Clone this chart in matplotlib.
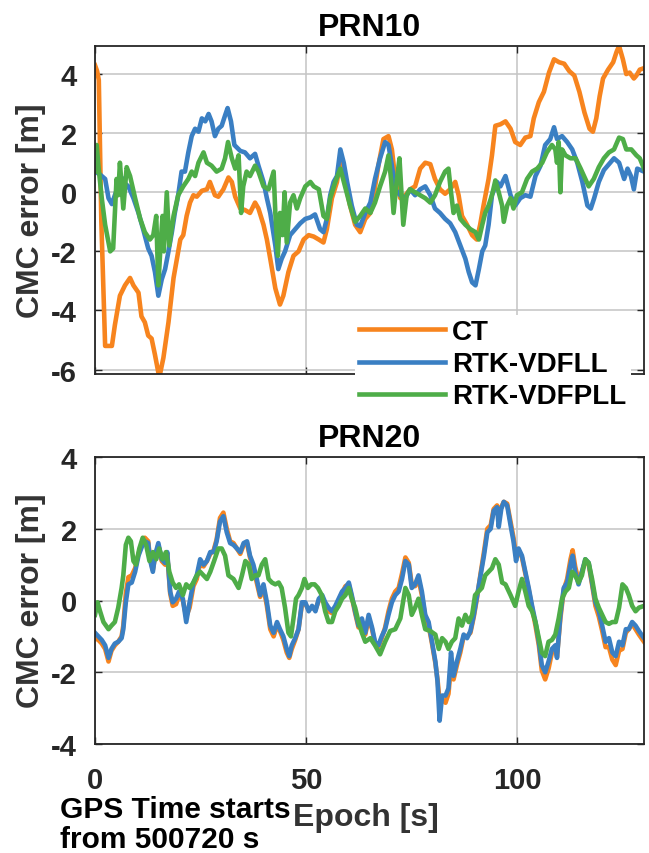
import matplotlib
matplotlib.use("Agg")
import matplotlib.pyplot as plt
import numpy as np

plt.rcParams['font.family'] = ['Liberation Sans', 'DejaVu Sans']
plt.rcParams['font.weight'] = 'bold'
plt.rcParams['axes.unicode_minus'] = False

# PRN10 -- epoch [s] and CMC error [m] for each receiver
p10_ct_t = [0, 0.5, 0.9, 1.5, 2.4, 3.2, 4.0, 4.7, 5.9, 7.1, 8.3, 9.1, 10.3, 11.0, 11.8, 12.6, 13.4, 14.2, 15.0, 15.4,
            16.2, 17.4, 18.6, 19.4, 20.2, 20.9, 21.7, 22.5, 23.3, 24.1, 25.3, 26.5, 27.2, 28.4, 29.2, 30.4, 31.6, 32.4,
            33.2, 34.4, 35.5, 36.7, 37.9, 38.7, 39.9, 40.7, 41.5, 42.7, 43.8, 44.6, 45.8, 47.0, 48.2, 49.4, 50.6, 51.8,
            53.0, 54.1, 54.9, 56.1, 57.3, 58.1, 59.2, 60.4, 61.6, 62.8, 64.0, 65.2, 66.0, 67.1, 68.3, 69.5, 70.3, 71.1,
            72.3, 73.5, 74.6, 75.8, 77.0, 78.2, 79.4, 80.5, 81.7, 82.9, 84.1, 85.3, 86.1, 86.9, 88.1, 89.3, 90.4, 91.2,
            92.0, 93.2, 94.0, 94.8, 96.0, 97.2, 98.4, 99.5, 100.7, 101.9, 103.1, 103.9, 105.1, 106.3, 107.5, 108.7,
            109.9, 111.1, 112.3, 113.5, 114.7, 115.9, 117.1, 117.9, 118.7, 119.5, 120.3, 121.5, 122.7, 123.5, 124.1,
            125.0, 125.8, 126.6, 127.6, 128.2, 129.0, 130]
p10_ct = [4.3, 4.1, 3.8, -1.0, -5.2, -5.2, -5.2, -4.5, -3.5, -3.15, -2.9, -3.15, -3.4, -4.2, -4.4, -4.85, -4.95, -5.5,
          -6.1, -6.15, -5.6, -4.4, -2.9, -2.25, -1.6, -1.45, -0.8, -0.35, -0.1, -0.15, 0.05, 0.1, 0.35, -0.1, -0.15,
          0.1, 0.5, 0.35, -0.15, -0.55, -0.6, -0.7, -0.35, -0.55, -1.1, -1.6, -2.25, -3.25, -3.8, -3.5, -2.7, -2.15,
          -2.0, -1.6, -1.45, -1.5, -1.6, -1.7, -1.25, -0.2, 0.35, 1.1, 0.35, -0.45, -1.1, -1.35, -0.9, -0.7, -0.1, 0.9,
          1.8, 1.9, 1.45, 0.45, -0.2, -0.1, 0.1, 0.2, 0.8, 1.0, 0.95, 0.45, 0.1, -0.05, 0.1, 0.35, -0.1, -0.8, -1.1,
          -1.45, -1.6, -1.1, -0.45, 0.45, 1.25, 2.25, 2.3, 2.4, 2.15, 1.7, 1.6, 1.85, 1.9, 2.5, 3.05, 3.4, 4.05, 4.5,
          4.4, 4.35, 4.1, 3.95, 3.4, 2.7, 2.15, 2.05, 2.5, 3.25, 3.85, 4.15, 4.4, 4.75, 4.95, 4.5, 4.0, 4.05, 3.85,
          3.95, 4.15, 4.2]

p10_fll_t = [0, 1.2, 2.4, 3.2, 4.0, 4.7, 5.5, 6.3, 7.1, 7.9, 9.1, 10.3, 11.4, 12.6, 13.4, 14.2, 15.0, 15.8, 16.6,
             17.4, 18.2, 18.9, 19.7, 20.5, 21.3, 22.1, 22.9, 23.7, 24.5, 25.3, 26.1, 26.9, 27.6, 28.4, 29.2, 30.0,
             30.8, 31.4, 32.2, 33.0, 34.4, 35.5, 36.7, 37.9, 38.7, 39.9, 40.7, 41.5, 42.7, 43.4, 44.2, 45.0, 46.2,
             47.4, 48.6, 49.8, 51.0, 52.1, 53.3, 54.1, 54.9, 55.7, 56.5, 57.3, 58.1, 58.9, 59.7, 60.8, 62.0, 62.8,
             64.0, 65.2, 66.3, 67.5, 68.7, 69.5, 70.3, 71.1, 72.3, 73.5, 74.6, 75.8, 77.0, 78.2, 79.4, 80.5, 81.7,
             82.9, 84.1, 85.3, 86.5, 87.7, 88.5, 89.3, 90.1, 90.9, 91.7, 92.4, 93.2, 94.0, 95.2, 96.0, 97.2, 98.4,
             99.5, 100.7, 101.9, 103.1, 104.3, 105.5, 106.6, 107.8, 108.7, 109.4, 110.6, 111.8, 113.0, 114.2, 115.4,
             116.6, 117.4, 118.2, 119.3, 120.5, 121.7, 122.9, 124.1, 125.3, 126.1, 126.9, 127.6, 128.4, 130]
p10_fll = [0.7, 0.6, 0.45, -0.2, -0.4, -0.1, 0.2, 0.5, 0.3, 0.2, -0.2, -0.7, -1.25, -1.9, -2.15, -2.7, -3.5, -2.95,
           -2.6, -2.0, -1.35, -0.7, -0.1, 0.7, 0.7, 1.35, 1.9, 2.15, 2.05, 2.5, 2.4, 2.65, 2.4, 1.9, 2.15, 2.25, 2.6,
           2.85, 2.4, 1.6, 1.4, 1.35, 1.15, 1.3, 0.9, 0.35, -0.2, -0.7, -1.8, -2.6, -2.25, -2.0, -1.45, -1.25, -1.05,
           -0.9, -0.85, -0.75, -1.25, -1.35, -0.9, -0.1, 0.35, 0.55, 1.45, 1.0, 0.35, -0.45, -1.1, -1.15, -0.7,
           -0.35, 0.45, 1.15, 1.7, 1.6, 0.9, 0.1, -0.1, -0.2, 0.1, -0.1, 0.1, 0.2, -0.1, -0.55, -0.7, -0.9, -1.05,
           -1.35, -1.8, -2.25, -2.7, -3.05, -3.15, -2.6, -2.0, -1.8, -1.1, -0.1, 0.35, 0.2, 0.55, -0.1, -0.45, -0.2,
           -0.1, -0.15, 0.55, 0.9, 1.6, 1.8, 2.2, 1.8, 1.9, 1.7, 1.45, 1.0, 0.35, -0.45, -0.55, -0.2, 0.35, 0.75,
           0.95, 1.15, 1.0, 0.45, 0.8, 0.55, 0.1, 0.8, 0.7]

p10_fpll_t = [0, 0.4, 0.8, 1.6, 2.4, 3.2, 3.6, 4.3, 4.7, 5.1, 5.5, 5.9, 6.3, 6.7, 7.5, 8.3, 9.5, 10.7, 11.8, 13.0,
              13.8, 14.5, 15.0, 15.6, 16.0, 16.3, 17.0, 17.6, 18.6, 19.7, 20.9, 22.1, 22.9, 23.7, 24.5, 25.7, 26.5,
              27.6, 28.8, 30.0, 30.8, 31.5, 32.4, 33.2, 34.0, 34.6, 35.1, 35.9, 36.7, 37.9, 38.7, 39.9, 41.1, 42.3,
              42.7, 43.3, 43.8, 44.4, 44.9, 45.4, 46.2, 47.0, 47.8, 48.6, 49.8, 51.0, 51.8, 53.0, 54.1, 54.9, 55.7,
              56.9, 58.1, 59.2, 60.4, 61.6, 62.8, 64.0, 65.2, 66.3, 67.5, 68.7, 69.5, 70.1, 70.7, 71.5, 72.1, 72.6,
              73.0, 73.8, 74.6, 75.8, 77.0, 78.2, 79.4, 80.5, 81.7, 82.9, 83.7, 84.3, 84.9, 85.7, 86.5, 87.7, 88.9,
              90.1, 90.9, 91.7, 92.4, 93.2, 94.0, 94.8, 95.6, 96.4, 96.8, 97.6, 98.4, 99.1, 99.9, 101.1, 102.3,
              103.5, 104.7, 105.9, 107.0, 108.2, 109.0, 109.4, 109.8, 110.2, 110.6, 111.4, 112.6, 113.8, 115.0,
              116.1, 116.9, 118.1, 119.3, 120.5, 121.7, 122.9, 124.1, 125.0, 125.8, 127.0, 128.2, 129.0, 130]
p10_fpll = [0.7, 1.6, 0.9, -0.2, -1.1, -1.7, -2.0, -1.9, -0.7, 0.45, -0.1, 1.0, 0.2, -0.55, 0.85, 0.55, -0.2, -0.9,
            -1.35, -1.6, -1.45, -0.8, -3.15, -1.6, -0.8, -2.0, 0.0, -1.8, -0.8, -0.1, 0.2, 0.45, 0.7, 0.55, 1.0,
            1.35, 1.0, 0.9, 0.7, 0.8, 1.15, 1.7, 1.15, 0.8, 1.25, -0.7, 0.2, 0.7, 0.55, 0.9, 0.7, 0.2, 0.1, 0.7,
            -0.7, -2.15, -0.7, -1.45, 0.0, -1.7, -0.35, -0.1, -0.55, -0.2, 0.2, 0.35, 0.2, 0.1, -0.8, -0.9, -0.2,
            0.35, 0.8, 0.2, -0.45, -1.0, -0.8, -0.55, -0.7, -0.35, 0.2, 0.7, 1.25, 0.45, -0.7, 0.45, 1.15, -0.1,
            -1.1, -0.1, 0.1, 0.0, -0.1, -0.2, -0.35, -0.1, 0.35, 0.7, 0.8, 0.0, -0.7, -0.45, -0.9, -1.1, -1.25,
            -1.35, -1.6, -1.1, -0.7, -0.45, -0.1, 0.4, 0.0, -0.45, -1.0, -0.45, -0.2, -0.55, -0.1, 0.0, 0.45, 0.7,
            0.8, 1.0, 1.35, 1.6, 1.45, 1.0, 1.7, 0.0, 1.45, 1.25, 1.15, 1.15, 0.8, 0.45, 0.2, 0.45, 0.85, 1.15,
            1.35, 1.45, 1.85, 1.8, 1.45, 1.45, 1.25, 1.15, 0.8]

# PRN20 -- CT and VDFLL share one epoch list
p20_t = [0, 0.8, 1.6, 2.4, 3.2, 3.9, 4.7, 5.5, 6.3, 6.7, 7.3, 7.9, 8.7, 9.5, 10.3, 11.1, 11.8, 12.6, 13.0, 13.7,
         14.2, 15.0, 15.8, 16.6, 17.1, 17.8, 18.4, 19.2, 19.9, 20.8, 21.6, 22.4, 23.3, 24.1, 24.9, 25.7, 26.5,
         27.3, 28.1, 28.8, 29.6, 30.4, 31.2, 32.0, 32.8, 34.4, 35.2, 36.0, 36.7, 37.5, 38.3, 39.1, 39.9, 40.7,
         41.5, 42.3, 43.1, 43.8, 44.6, 45.4, 46.0, 46.6, 47.4, 48.2, 49.0, 49.8, 50.6, 51.4, 52.2, 53.0, 53.8,
         54.5, 55.3, 56.1, 56.9, 57.7, 58.5, 59.3, 60.1, 60.8, 61.6, 62.4, 63.2, 64.0, 64.8, 65.6, 66.3, 67.1,
         67.9, 68.7, 69.5, 70.3, 71.1, 71.9, 72.7, 73.5, 74.3, 75.0, 75.8, 76.6, 77.4, 78.2, 79.0, 79.8, 80.6,
         81.1, 81.6, 82.2, 83.0, 83.7, 84.3, 84.9, 85.7, 86.5, 87.3, 88.1, 88.9, 89.7, 90.5, 91.3, 92.1, 92.9,
         93.7, 94.4, 95.2, 95.6, 96.2, 96.8, 97.6, 98.4, 99.1, 99.7, 100.3, 101.1, 101.9, 102.7, 103.5, 104.3,
         105.1, 105.8, 106.6, 107.4, 108.2, 109.0, 109.4, 110.2, 111.0, 111.8, 112.6, 113.1, 113.7, 114.5, 115.3,
         116.1, 116.9, 117.7, 118.5, 119.3, 120.1, 120.9, 121.7, 122.5, 123.3, 124.1, 124.9, 125.7, 126.4, 127.2,
         128.0, 128.8, 130]
p20_ct = [-1.05, -1.1, -1.2, -1.35, -1.7, -1.4, -1.25, -1.15, -1.0, -0.7, 0.2, 0.65, 0.7, 0.9, 1.3, 1.6, 1.75, 1.65,
          1.2, 0.85, 1.2, 1.55, 1.1, 1.0, 1.3, 0.2, -0.15, -0.1, 0.15, 0.0, -0.45, -0.2, 0.4, 0.6, 1.05, 0.95, 1.1,
          1.3, 1.4, 1.7, 2.3, 2.45, 2.0, 1.65, 1.6, 1.3, 1.55, 1.6, 1.2, 0.9, 0.5, 0.1, 0.35, -0.15, -0.8, -1.0,
          -0.7, -0.85, -1.1, -1.45, -1.6, -1.35, -1.1, -0.8, -0.1, -0.1, -0.25, -0.2, -0.25, 0.0, 0.1, -0.1, -0.3,
          -0.35, -0.2, 0.0, 0.2, 0.4, 0.45, 0.1, -0.35, -0.75, -0.6, -0.95, -0.5, -0.8, -1.2, -1.3, -1.05, -0.75,
          -0.3, 0.05, 0.25, 0.35, 0.75, 1.2, 1.05, 0.45, 0.4, 0.6, 0.15, -0.45, -0.7, -1.2, -1.75, -2.2, -2.8,
          -2.75, -2.85, -2.6, -1.8, -2.2, -1.8, -1.45, -1.0, -1.0, -0.9, -0.45, 0.1, 0.75, 1.35, 2.0, 2.1, 2.55,
          2.65, 2.4, 2.6, 2.75, 2.7, 2.2, 1.75, 1.25, 1.4, 1.2, 0.75, 0.3, -0.2, -0.7, -1.25, -1.95, -2.2, -1.9,
          -1.45, -1.35, -1.55, -0.5, 0.3, 0.6, 1.15, 1.4, 0.95, 0.55, 0.8, 1.1, 1.0, 0.45, -0.15, -0.45, -0.85,
          -1.3, -1.3, -1.65, -1.8, -1.4, -1.35, -0.9, -0.8, -0.65, -0.8, -0.95, -1.15]
p20_fll = [-0.9, -1.0, -1.1, -1.25, -1.6, -1.35, -1.2, -1.15, -1.05, -0.8, -0.05, 0.45, 0.5, 0.8, 1.25, 1.5, 1.65,
           1.6, 1.15, 0.8, 1.25, 1.6, 1.15, 1.05, 1.35, 0.25, -0.05, 0.05, 0.25, 0.05, -0.6, -0.05, 0.5, 0.7, 1.15,
           1.0, 1.1, 1.35, 1.35, 1.65, 2.2, 2.35, 1.9, 1.6, 1.55, 1.35, 1.6, 1.65, 1.25, 1.0, 0.6, 0.15, 0.45,
           -0.05, -0.7, -0.9, -0.6, -0.8, -1.0, -1.35, -1.55, -1.25, -1.05, -0.8, -0.05, -0.05, -0.3, -0.15, -0.3,
           0.05, 0.15, -0.05, -0.2, -0.3, -0.15, 0.05, 0.25, 0.35, 0.5, 0.15, -0.3, -0.7, -0.5, -0.9, -0.4, -0.75,
           -1.15, -1.25, -1.0, -0.8, -0.4, -0.05, 0.15, 0.25, 0.6, 1.1, 1.0, 0.35, 0.45, 0.7, 0.25, -0.4, -0.6,
           -1.15, -1.7, -2.25, -3.35, -2.65, -2.65, -2.45, -1.45, -2.1, -1.7, -1.35, -0.95, -1.05, -0.85, -0.4,
           0.15, 0.7, 1.25, 1.9, 2.0, 2.5, 2.6, 2.05, 2.55, 2.75, 2.65, 2.1, 1.65, 1.1, 1.45, 1.25, 0.8, 0.35,
           -0.15, -0.6, -1.15, -1.8, -2.0, -1.7, -1.35, -1.25, -1.6, -0.4, 0.35, 0.5, 1.0, 1.25, 0.8, 0.45, 0.8,
           1.15, 1.05, 0.5, -0.05, -0.3, -0.7, -1.15, -1.05, -1.45, -1.55, -1.15, -1.25, -0.8, -0.8, -0.6, -0.7,
           -0.85, -1.05]

p20_fpll_t = [0, 0.6, 1.2, 2.0, 3.2, 3.9, 4.7, 5.5, 6.3, 6.7, 7.3, 7.9, 8.5, 9.1, 9.7, 10.5, 11.3, 12.1, 12.9, 13.7,
              14.5, 15.2, 16.0, 16.8, 17.6, 18.4, 19.2, 19.9, 20.8, 21.6, 22.4, 23.3, 24.1, 24.9, 25.7, 26.5, 27.3,
              28.2, 29.2, 30.0, 30.8, 31.6, 32.8, 34.0, 34.8, 35.6, 36.4, 37.1, 37.9, 38.7, 39.5, 40.3, 41.1, 41.9,
              42.7, 43.5, 44.2, 45.0, 45.8, 46.4, 47.0, 47.6, 48.2, 49.0, 49.6, 50.4, 51.2, 52.0, 52.8, 53.7, 54.5,
              55.3, 56.1, 56.9, 57.7, 58.5, 59.3, 60.1, 60.8, 61.6, 62.4, 63.2, 64.0, 65.2, 66.3, 67.5, 68.7, 69.9,
              71.1, 72.3, 73.5, 74.3, 75.0, 75.8, 76.6, 77.4, 78.2, 79.4, 80.6, 81.4, 82.2, 83.0, 83.7, 84.5, 85.3,
              86.1, 86.9, 87.7, 88.5, 89.3, 90.0, 90.8, 91.6, 92.4, 93.2, 94.0, 94.8, 95.6, 96.4, 97.2, 98.4, 99.5,
              100.3, 101.1, 101.9, 102.7, 103.5, 104.3, 105.1, 105.8, 106.6, 107.4, 108.2, 109.0, 109.8, 110.6,
              111.4, 112.2, 113.0, 113.7, 114.5, 115.3, 116.1, 116.9, 117.7, 118.5, 119.3, 120.1, 120.9, 121.7,
              122.5, 123.3, 124.1, 124.9, 125.7, 126.4, 127.2, 128.0, 128.8, 130]
p20_fpll = [-0.4, -0.05, -0.3, -0.6, -0.8, -0.7, -0.6, -0.2, 0.35, 0.7, 1.55, 1.75, 1.65, 1.1, 1.0, 1.45, 1.75, 1.55,
            1.1, 1.35, 1.15, 1.45, 1.15, 1.35, 0.8, 0.5, 0.35, 0.45, 0.15, 0.45, 0.35, 0.5, 0.7, 0.8, 0.7, 0.6, 0.8,
            1.1, 1.45, 1.45, 1.25, 0.7, 0.6, 0.35, 0.7, 1.1, 1.0, 0.6, 0.7, 0.7, 1.0, 1.15, 0.6, 0.5, 0.45, 0.5,
            0.35, -0.2, -0.9, -1.0, -0.5, 0.05, 0.15, 0.35, 0.6, 0.35, 0.45, 0.45, 0.35, 0.15, -0.3, -0.6, -0.6,
            -0.3, -0.15, 0.05, 0.15, 0.35, 0.05, -0.2, -0.6, -0.9, -1.15, -1.05, -1.25, -1.5, -1.15, -0.85, -0.8,
            -0.5, 0.35, 0.15, -0.4, -0.2, 0.05, -0.4, -0.8, -0.85, -0.95, -1.35, -1.05, -1.15, -1.35, -1.15, -1.05,
            -0.5, -0.7, -0.4, -0.6, -0.4, 0.15, 0.25, 0.35, 0.7, 0.8, 0.9, 1.15, 1.0, 0.5, 0.45, 0.15, -0.15, 0.25,
            0.6, 0.25, -0.15, -0.3, -0.6, -1.05, -1.45, -1.55, -1.15, -1.1, -0.95, -0.5, 0.05, 0.25, 0.35, 0.8, 0.7,
            0.5, 0.7, 1.15, 1.05, 0.6, 0.05, -0.2, -0.4, -0.6, -0.65, -0.6, -0.6, -0.2, 0.45, 0.35, 0.15, -0.15,
            -0.3, -0.2, -0.15]

labels = ['CT', 'RTK-VDFLL', 'RTK-VDFPLL']
colors = ['#F7841E', '#3A7FC3', '#4EAD48']
lw = 3.3
tick_color = '#262626'

fig = plt.figure(figsize=(6.49, 8.54), dpi=100)
ax1 = fig.add_axes([95 / 649, 1 - 375 / 854, 549 / 649, 328 / 854])
ax2 = fig.add_axes([95 / 649, 1 - 745 / 854, 549 / 649, 287 / 854])

ax1.plot(p10_ct_t, p10_ct, color=colors[0], lw=lw, label=labels[0])
ax1.plot(p10_fll_t, p10_fll, color=colors[1], lw=lw, label=labels[1])
ax1.plot(p10_fpll_t, p10_fpll, color=colors[2], lw=lw, label=labels[2])

ax2.plot(p20_t, p20_ct, color=colors[0], lw=lw)
ax2.plot(p20_t, p20_fll, color=colors[1], lw=lw)
ax2.plot(p20_fpll_t, p20_fpll, color=colors[2], lw=lw)

for ax, title in [(ax1, 'PRN10'), (ax2, 'PRN20')]:
    ax.set_xlim(0, 130)
    ax.set_xticks([0, 50, 100])
    ax.grid(True, color='#c4c4c4', lw=1.1)
    ax.set_axisbelow(True)
    ax.tick_params(direction='in', length=5, width=1, colors=tick_color,
                   labelsize=21, top=True, right=True, pad=13)
    ax.tick_params(axis='x', pad=16)
    for s in ax.spines.values():
        s.set_color(tick_color)
        s.set_linewidth(1.3)
    ax.set_title(title, fontsize=23, fontweight='bold', pad=8, color='black')

ax1.set_ylim(-6.15, 4.95)
ax1.set_yticks([-6, -4, -2, 0, 2, 4])
ax1.tick_params(axis='x', labelbottom=False)
ax2.set_ylim(-4, 4)
ax2.set_yticks([-4, -2, 0, 2, 4])

fig.text(31 / 649, 1 - 211 / 854, 'CMC error [m]', rotation=90, ha='center', va='center',
         fontsize=23, color='#333333')
fig.text(31 / 649, 1 - 601 / 854, 'CMC error [m]', rotation=90, ha='center', va='center',
         fontsize=23, color='#333333')
fig.text(366 / 649, 1 - 826 / 854, 'Epoch [s]', ha='center', va='baseline', fontsize=23, color='#333333')
fig.text(60 / 649, 1 - 818 / 854, 'GPS Time starts', ha='left', va='baseline', fontsize=21.5, color='black')
fig.text(60 / 649, 1 - 848 / 854, 'from 500720 s', ha='left', va='baseline', fontsize=21.5, color='black')

leg = ax1.legend(loc='upper left', bbox_to_anchor=(355 / 649, 1 - 316 / 854),
                 bbox_transform=fig.transFigure, fontsize=20, frameon=True,
                 handlelength=3.1, handletextpad=0.25, labelspacing=0.22,
                 borderpad=0.15, borderaxespad=0)
leg.get_frame().set_facecolor('white')
leg.get_frame().set_edgecolor('none')
leg.get_frame().set_alpha(1)
leg.get_frame().set_boxstyle('square', pad=0)

fig.savefig('out.png', dpi=100)
